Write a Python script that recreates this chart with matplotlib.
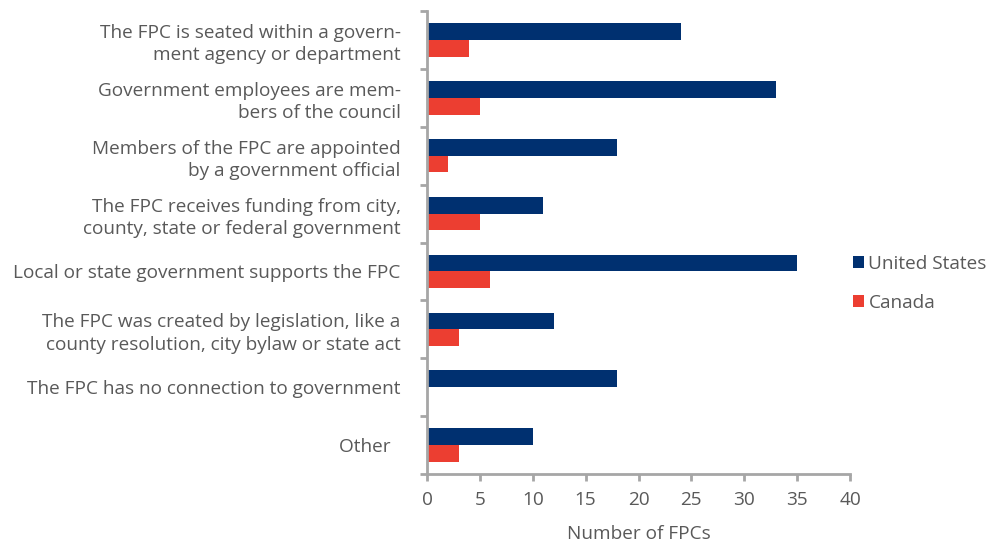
import matplotlib
matplotlib.use("Agg")
import matplotlib.pyplot as plt
import numpy as np

categories = [
    "The FPC is seated within a govern-\nment agency or department",
    "Government employees are mem-\nbers of the council",
    "Members of the FPC are appointed\nby a government official",
    "The FPC receives funding from city,\ncounty, state or federal government",
    "Local or state government supports the FPC",
    "The FPC was created by legislation, like a\ncounty resolution, city bylaw or state act",
    "The FPC has no connection to government",
    "Other  ",
]
us_values = [24, 33, 18, 11, 35, 12, 18, 10]
canada_values = [4, 5, 2, 5, 6, 3, 0, 3]
series_names = ["United States", "Canada"]
xticks = [0, 5, 10, 15, 20, 25, 30, 35, 40]

US_COLOR = "#003070"
CA_COLOR = "#EC3E31"
TEXT = "#595959"
AXIS = "#A6A6A6"
FS = 13.7

plt.rcParams['font.family'] = ['Open Sans', 'DejaVu Sans']

fig = plt.figure(figsize=(9.96, 5.43), dpi=100)
ax = fig.add_axes([427/996, 69/543, 423/996, 463/543])

y = np.arange(len(categories))
h = 0.29
ax.barh(y - h/2, us_values, height=h, color=US_COLOR, label=series_names[0])
ax.barh(y + h/2, canada_values, height=h, color=CA_COLOR, label=series_names[1])

ax.set_ylim(len(categories) - 0.5, -0.5)
ax.set_xlim(0, 40)
ax.set_xticks(xticks)
ax.set_yticks(y)
ax.set_yticklabels(categories, fontsize=FS, color=TEXT, ha='right', multialignment='right',
                   linespacing=1.3)
ax.set_yticks(np.arange(len(categories) + 1) - 0.5, minor=True)
ax.tick_params(axis='y', which='major', length=0, pad=19)
ax.tick_params(axis='y', which='minor', length=5, width=2, color=AXIS, direction='out')
ax.tick_params(axis='x', which='major', length=5, width=2, color=AXIS, labelsize=FS,
               labelcolor=TEXT, pad=7)
ax.set_xlabel("Number of FPCs", fontsize=FS, color=TEXT, labelpad=12)

for s in ['top', 'right']:
    ax.spines[s].set_visible(False)
for s in ['left', 'bottom']:
    ax.spines[s].set_color(AXIS)
    ax.spines[s].set_linewidth(2)

leg = ax.legend(loc='center left', bbox_to_anchor=(0.967, 0.412), frameon=False,
                fontsize=FS, handlelength=0.55, handleheight=0.55, handletextpad=0.25,
                labelspacing=1.1)
for t in leg.get_texts():
    t.set_color(TEXT)

fig.savefig("out.png", dpi=100)
